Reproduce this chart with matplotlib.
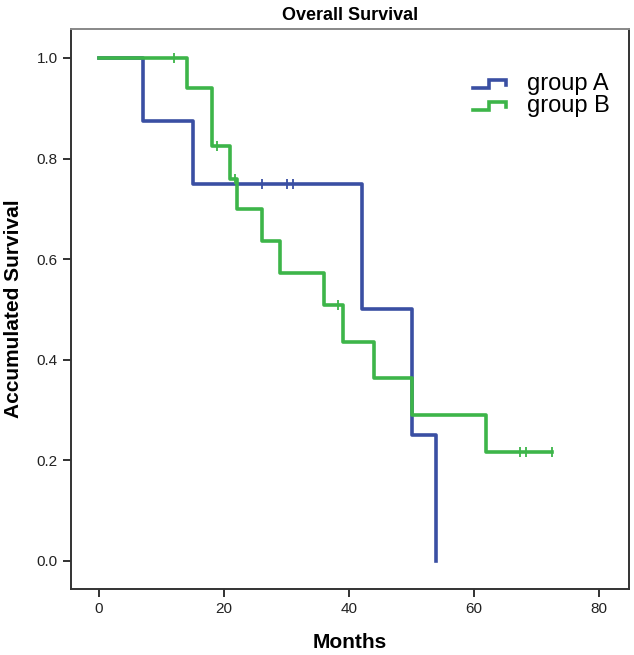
import matplotlib
matplotlib.use('Agg')
import matplotlib.pyplot as plt
from matplotlib.lines import Line2D
from matplotlib.legend_handler import HandlerLine2D

plt.rcParams['font.family'] = ['Liberation Sans', 'DejaVu Sans']

# Kaplan-Meier step data
a_times = [0, 7, 15, 42, 50, 54]
a_surv = [1.0, 0.875, 0.75, 0.5, 0.25, 0.0]
a_cens_t = [26, 30, 31]
a_cens_s = [0.75, 0.75, 0.75]

b_times = [0, 14, 18, 21, 22, 26, 29, 36, 39, 44, 50, 62, 72.5]
b_surv = [1.0, 0.94, 0.825, 0.76, 0.70, 0.635, 0.572, 0.508, 0.435, 0.363, 0.29, 0.217, 0.217]
b_cens_t = [12, 18.8, 21.8, 38.2, 67.4, 68.3, 72.5]
b_cens_s = [1.0, 0.825, 0.76, 0.508, 0.217, 0.217, 0.217]

labels = ['group A', 'group B']
colors = ['#3a4fa3', '#3db549']


class StepHandler(HandlerLine2D):
    # legend key drawn as a small step
    def create_artists(self, legend, orig_handle, xdescent, ydescent,
                       width, height, fontsize, trans):
        x0, x1 = -xdescent, -xdescent + width
        xm = x0 + width * 0.5
        y0, y1 = -ydescent + height * 0.15, -ydescent + height * 0.6
        ln = Line2D([x0, xm, xm, x1, x1], [y0, y0, y1, y1, y1 - height * 0.3],
                    color=orig_handle.get_color(), lw=orig_handle.get_linewidth(),
                    solid_joinstyle='miter')
        ln.set_transform(trans)
        return [ln]


fig = plt.figure(figsize=(6.34, 6.55), dpi=100)
ax = fig.add_axes([0.112, 0.101, 0.88, 0.855])

handles = []
for t, s, ct, cs, c, lab in [(a_times, a_surv, a_cens_t, a_cens_s, colors[0], labels[0]),
                             (b_times, b_surv, b_cens_t, b_cens_s, colors[1], labels[1])]:
    h, = ax.step(t, s, where='post', color=c, lw=2.6, label=lab)
    ax.plot(ct, cs, ls='none', marker='|', ms=7, mew=1.3, color=c)
    handles.append(h)

ax.set_xlim(-4.5, 84.8)
ax.set_ylim(-0.056, 1.058)
ax.set_xticks([0, 20, 40, 60, 80])
ax.set_yticks([0.0, 0.2, 0.4, 0.6, 0.8, 1.0])
ax.set_yticklabels(['0.0', '0.2', '0.4', '0.6', '0.8', '1.0'])
ax.tick_params(direction='out', length=6, width=1.3, labelsize=11, colors='#222222')
for sp in ax.spines.values():
    sp.set_linewidth(1.4)
    sp.set_color('#333333')
ax.spines['top'].set_color('#888888')

ax.set_xlabel('Months', fontsize=15, fontweight='bold', labelpad=12)
ax.set_ylabel('Accumulated Survival', fontsize=15, fontweight='bold', labelpad=10)
ax.set_title('Overall Survival', fontsize=13, fontweight='bold', pad=6)

ax.legend(handles=handles, labels=labels, loc='upper right',
          bbox_to_anchor=(0.995, 0.95), frameon=False, fontsize=17,
          handler_map={Line2D: StepHandler()}, handlelength=1.4,
          handletextpad=0.9, labelspacing=0.0, borderpad=0.2)

fig.savefig('out.png', dpi=100)
